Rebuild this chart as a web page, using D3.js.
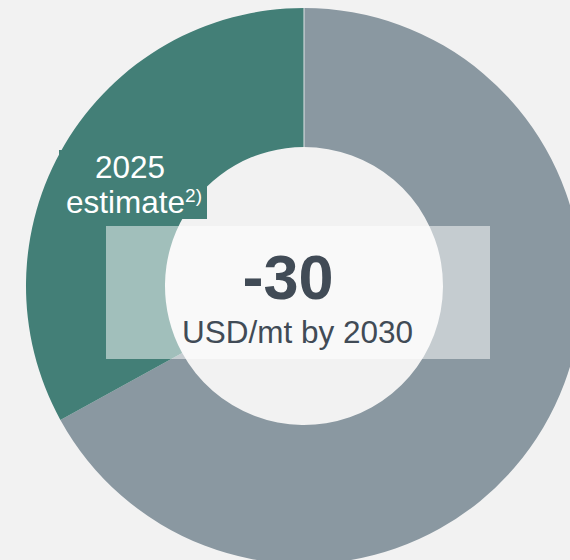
<!DOCTYPE html>
<html>
<head>
<meta charset="utf-8">
<script src="https://cdn.jsdelivr.net/npm/d3@7"></script>
<style>
  html, body { margin: 0; padding: 0; background: #f2f2f2; }
  svg { display: block; font-family: "Liberation Sans", Arial, sans-serif; }
</style>
</head>
<body>
<div id="chart"></div>
<script>
// Daten
var categories = ["rest", "2025 estimate"];
var values = [67, 33];
var colors = ["#8a98a1", "#437f77"];
var bigNumber = "-30";
var unitText = "USD/mt by 2030";
var labelLines = ["2025", "estimate"];
var labelSup = "2)";

var width = 570, height = 560;
var cx = 304, cy = 286, outerR = 278, innerR = 139;

var svg = d3.select("#chart")
  .append("svg")
    .attr("width", width)
    .attr("height", height);

svg.append("rect")
  .attr("width", width)
  .attr("height", height)
  .attr("fill", "#f2f2f2");

var data = categories.map(function(c, i) { return {cat: c, val: values[i], col: colors[i]}; });

var pie = d3.pie().sort(null).value(function(d) { return d.val; });
var arc = d3.arc().innerRadius(innerR).outerRadius(outerR);
var arcs = pie(data);

var g = svg.append("g")
  .attr("transform", "translate(" + cx + "," + cy + ")");

g.selectAll("path")
  .data(arcs)
  .enter()
  .append("path")
    .attr("d", arc)
    .attr("fill", function(d) { return d.data.col; });

// feine helle Trennlinie oben (Start des Kreises)
var a0 = arcs[0].startAngle;
g.append("line")
  .attr("x1", innerR * Math.sin(a0)).attr("y1", -innerR * Math.cos(a0))
  .attr("x2", outerR * Math.sin(a0)).attr("y2", -outerR * Math.cos(a0))
  .attr("stroke", "#dfe4e6")
  .attr("stroke-width", 1);

// Label box fuer den Schaetzwert
svg.append("rect")
  .attr("x", 59).attr("y", 150)
  .attr("width", 148).attr("height", 69)
  .attr("fill", colors[1]);

var lbl = svg.append("text")
  .attr("fill", "#ffffff")
  .attr("font-size", 31.5)
  .attr("text-anchor", "middle");

lbl.append("tspan")
  .attr("x", 130).attr("y", 178)
  .text(labelLines[0]);

var l2 = lbl.append("tspan")
  .attr("x", 134).attr("y", 213)
  .text(labelLines[1]);
l2.append("tspan")
  .attr("font-size", 19)
  .attr("dy", -11)
  .text(labelSup);

// halbtransparente Box in der Mitte
svg.append("rect")
  .attr("x", 106).attr("y", 226)
  .attr("width", 384).attr("height", 133)
  .attr("fill", "#ffffff")
  .attr("fill-opacity", 0.5);

svg.append("text")
  .attr("x", 288).attr("y", 299)
  .attr("text-anchor", "middle")
  .attr("font-size", 63)
  .attr("font-weight", "bold")
  .attr("fill", "#414b56")
  .text(bigNumber);

svg.append("text")
  .attr("x", 297.5).attr("y", 343)
  .attr("text-anchor", "middle")
  .attr("font-size", 31.5)
  .attr("fill", "#414b56")
  .text(unitText);
</script>
</body>
</html>
